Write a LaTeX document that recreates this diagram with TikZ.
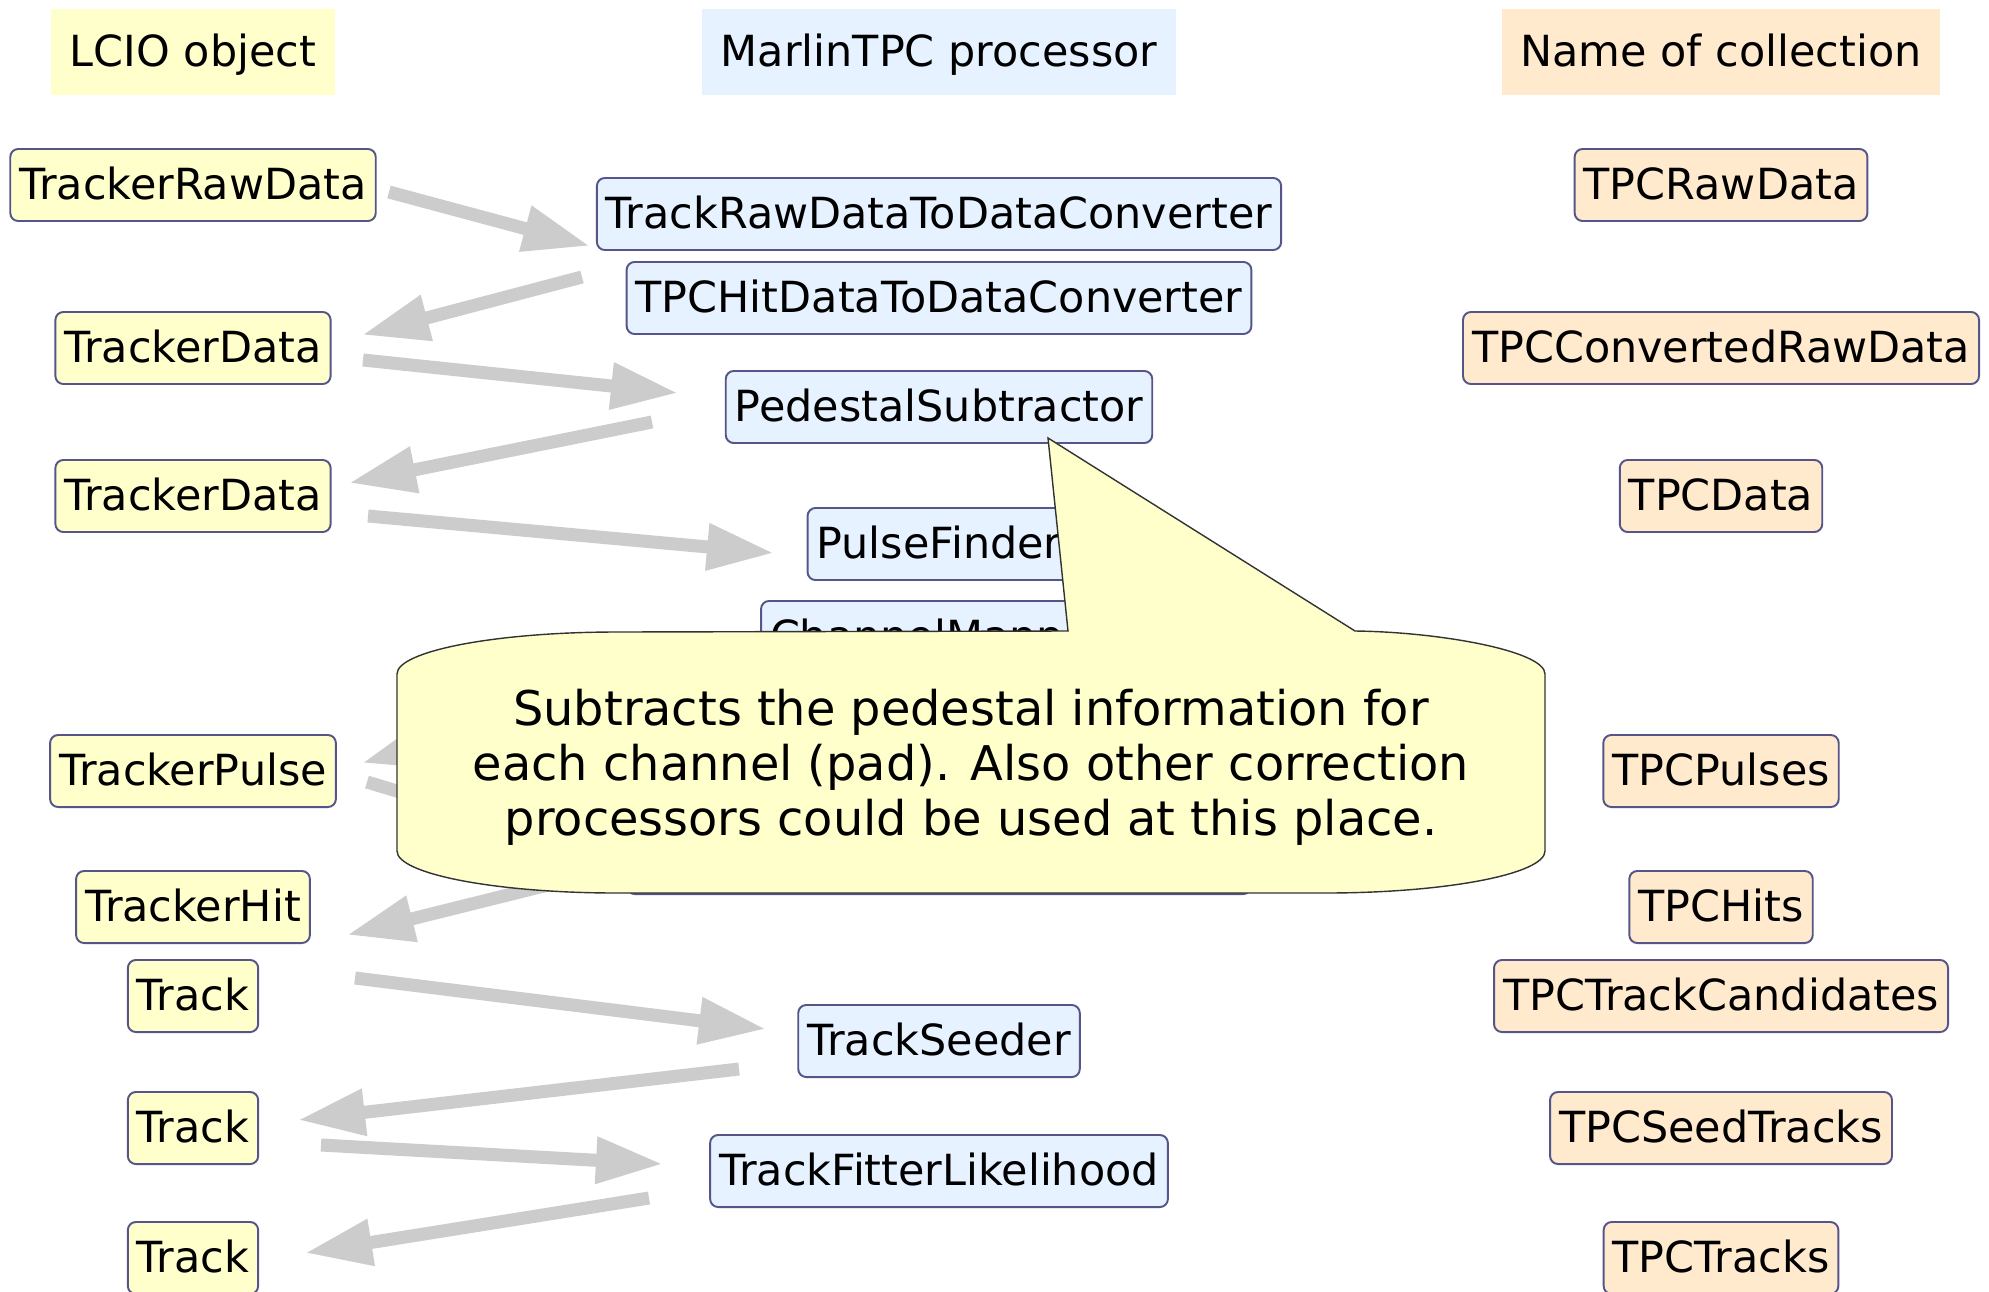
\documentclass[tikz,border=0pt]{standalone}
\usepackage{fontspec}
\setmainfont{DejaVu Sans}
\usetikzlibrary{arrows.meta, shapes}

\definecolor{objcol}{HTML}{FFFFCC}
\definecolor{proccol}{HTML}{E6F2FF}
\definecolor{collcol}{HTML}{FFEACD}
\definecolor{framecol}{HTML}{55558A}
\definecolor{flowcol}{HTML}{CCCCCC}
\definecolor{notecol}{HTML}{333333}

\begin{document}
\begin{tikzpicture}[x=0.01cm,y=-0.01cm,
        box/.style={draw=framecol,line width=0.55pt,rounded corners=0.08cm,minimum height=0.72cm,inner xsep=0.09cm,inner ysep=0pt,text height=0.32cm,text depth=0.03cm,font=\fontsize{12.2pt}{14pt}\selectfont},
        obj node/.style={box,fill=objcol},
        proc node/.style={box,fill=proccol},
        coll node/.style={box,fill=collcol},
        head node/.style={minimum height=0.86cm,inner xsep=0.185cm,inner ysep=0pt,text height=0.32cm,text depth=0.03cm,font=\fontsize{12.2pt}{14pt}\selectfont},
        flow/.style={color=flowcol,line width=0.13cm,-{Triangle[length=0.67cm,width=0.44cm]}}]
        \useasboundingbox[fill=white] (0,0) rectangle (1989,1291);

        % column heads
        \node[head node,fill=objcol] (h1) at (193,52) {LCIO object};
        \node[head node,fill=proccol] (h2) at (939,52) {MarlinTPC processor};
        \node[head node,fill=collcol] (h3) at (1721,52) {Name of collection};

        % LCIO objects
        \node[obj node] (o1) at (193,185) {TrackerRawData};
        \node[obj node] (o2) at (193,348) {TrackerData};
        \node[obj node] (o3) at (193,496) {TrackerData};
        \node[obj node] (o4) at (193,771) {TrackerPulse};
        \node[obj node] (o5) at (193,907) {TrackerHit};
        \node[obj node] (o6) at (193,996) {Track};
        \node[obj node] (o7) at (193,1128) {Track};
        \node[obj node] (o8) at (193,1258) {Track};

        % processors
        \node[proc node] (p1) at (939,214) {TrackRawDataToDataConverter};
        \node[proc node] (p2) at (939,298) {TPCHitDataToDataConverter};
        \node[proc node] (p3) at (939,407) {PedestalSubtractor};
        \node[proc node] (p4) at (939,544) {PulseFinder};
        \node[proc node] (p5) at (939,637) {ChannelMapper};
        \node[proc node,minimum width=6.24cm] (p6) at (939,858) {};
        \node[proc node] (p7) at (939,1041) {TrackSeeder};
        \node[proc node] (p8) at (939,1171) {TrackFitterLikelihood};

        % collections
        \node[coll node] (c1) at (1721,185) {TPCRawData};
        \node[coll node] (c2) at (1721,348) {TPCConvertedRawData};
        \node[coll node] (c3) at (1721,496) {TPCData};
        \node[coll node] (c4) at (1721,771) {TPCPulses};
        \node[coll node] (c5) at (1721,907) {TPCHits};
        \node[coll node] (c6) at (1721,996) {TPCTrackCandidates};
        \node[coll node] (c7) at (1721,1128) {TPCSeedTracks};
        \node[coll node] (c8) at (1721,1258) {TPCTracks};

        \path[flow]
        ([shift={(196,7)}]o1.center) edge ([shift={(-349,32)}]p1.center)
        ([shift={(-357,-21)}]p2.center) edge ([shift={(169,-13)}]o2.center)
        ([shift={(170,12)}]o2.center) edge ([shift={(-261,-14)}]p3.center)
        ([shift={(-287,15)}]p3.center) edge ([shift={(156,-13)}]o3.center)
        ([shift={(175,20)}]o3.center) edge ([shift={(-165,9)}]p4.center)
        ([shift={(-169,13)}]p5.center) edge ([shift={(169,-8)}]o4.center)
        ([shift={(174,11)}]o4.center) edge ([shift={(-324,-1)}]p6.center)
        ([shift={(-339,14)}]p6.center) edge ([shift={(154,28)}]o5.center)
        ([shift={(162,-18)}]o6.center) edge ([shift={(-173,-12)}]p7.center)
        ([shift={(-200,28)}]p7.center) edge ([shift={(105,-8)}]o7.center)
        ([shift={(128,17)}]o7.center) edge ([shift={(-276,-7)}]p8.center)
        ([shift={(-290,27)}]p8.center) edge ([shift={(112,-5)}]o8.center);

        % callout on the pedestal subtractor
        \path[draw=notecol,fill=objcol,line width=0.4pt]
        (397,674) .. controls (397,651) and (496,632) .. (617,632)
        -- (1068,631) -- (1048,438) -- (1355,631)
        .. controls (1440,632) and (1545,651) .. (1545,674)
        -- (1545,851) .. controls (1545,874) and (1446,893) .. (1325,893)
        -- (617,893) .. controls (496,893) and (397,874) .. (397,851) -- cycle;
        \node[align=center,font=\fontsize{13.6pt}{15.6pt}\selectfont] (note) at (971,767)
        {Subtracts the pedestal information for\\each channel (pad). Also other correction\\processors could be used at this place.};
\end{tikzpicture}
\end{document}
